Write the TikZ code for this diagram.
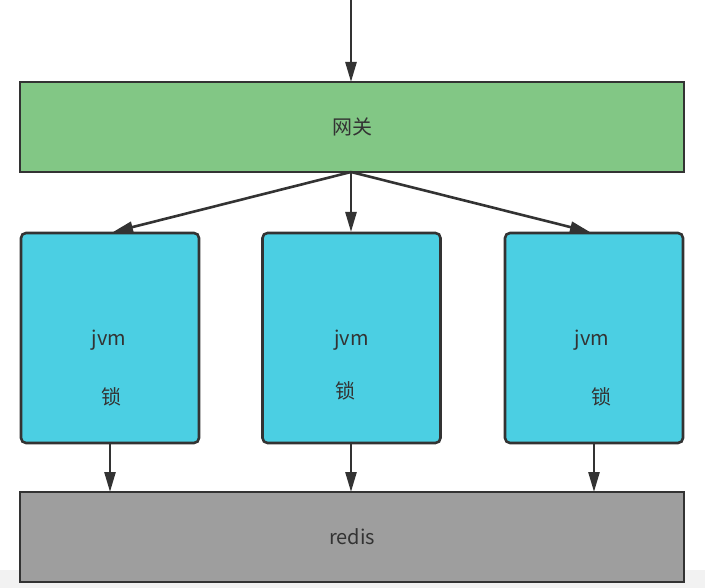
\documentclass[tikz,border=0pt]{standalone}
\usepackage{fontspec}
\setmainfont{Noto Sans CJK SC}
\usetikzlibrary{arrows.meta}
\definecolor{gwgreen}{HTML}{82C785}
\definecolor{jvmblue}{HTML}{4BCFE3}
\definecolor{redisgray}{HTML}{9E9E9E}
\definecolor{linegray}{HTML}{333333}
\definecolor{bandgray}{HTML}{F2F2F2}
\tikzset{
  wide/.style={draw=linegray, line width=2.6pt, minimum width=664pt, minimum height=90pt, inner sep=0pt, font=\fontsize{20pt}{23pt}\selectfont, text=linegray},
  jvmbox/.style={draw=linegray, line width=2.6pt, fill=jvmblue, rounded corners=5pt, minimum width=178pt, minimum height=210pt, inner sep=0pt},
  lbl/.style={font=\fontsize{20pt}{23pt}\selectfont, text=linegray, inner sep=0pt},
  arr/.style={draw=linegray, line width=2.6pt, -{Triangle[length=20pt,width=11pt]}}
}
\begin{document}
\begin{tikzpicture}[x=1pt,y=-1pt]
\useasboundingbox (0,0) rectangle (705,588);
\fill[bandgray] (0,570) rectangle (705,588);
\node[wide, fill=gwgreen] (gw) at (352,127) {网关};
\node[jvmbox] (j1) at (110,338) {};
\node[jvmbox] (j2) at (351.5,338) {};
\node[jvmbox] (j3) at (594,338) {};
\node[wide, fill=redisgray] (rd) at (352,537) {redis};
\coordinate (top) at (351,0);
\node[lbl] (t1a) at (109,340) {jvm};
\node[lbl] (t1b) at (111,397) {锁};
\node[lbl] (t2a) at (351.5,340) {jvm};
\node[lbl] (t2b) at (345,391) {锁};
\node[lbl] (t3a) at (592,340) {jvm};
\node[lbl] (t3b) at (601,397) {锁};
\coordinate (gwb) at (351,172);
\draw[arr] (top) -- (351,82);
\draw[arr] (gwb) -- (113,232);
\draw[arr] (gwb) -- (351,232);
\draw[arr] (gwb) -- (590,232);
\draw[arr] (110,444) -- (110,492);
\draw[arr] (351,444) -- (351,492);
\draw[arr] (594,444) -- (594,492);
\end{tikzpicture}
\end{document}
